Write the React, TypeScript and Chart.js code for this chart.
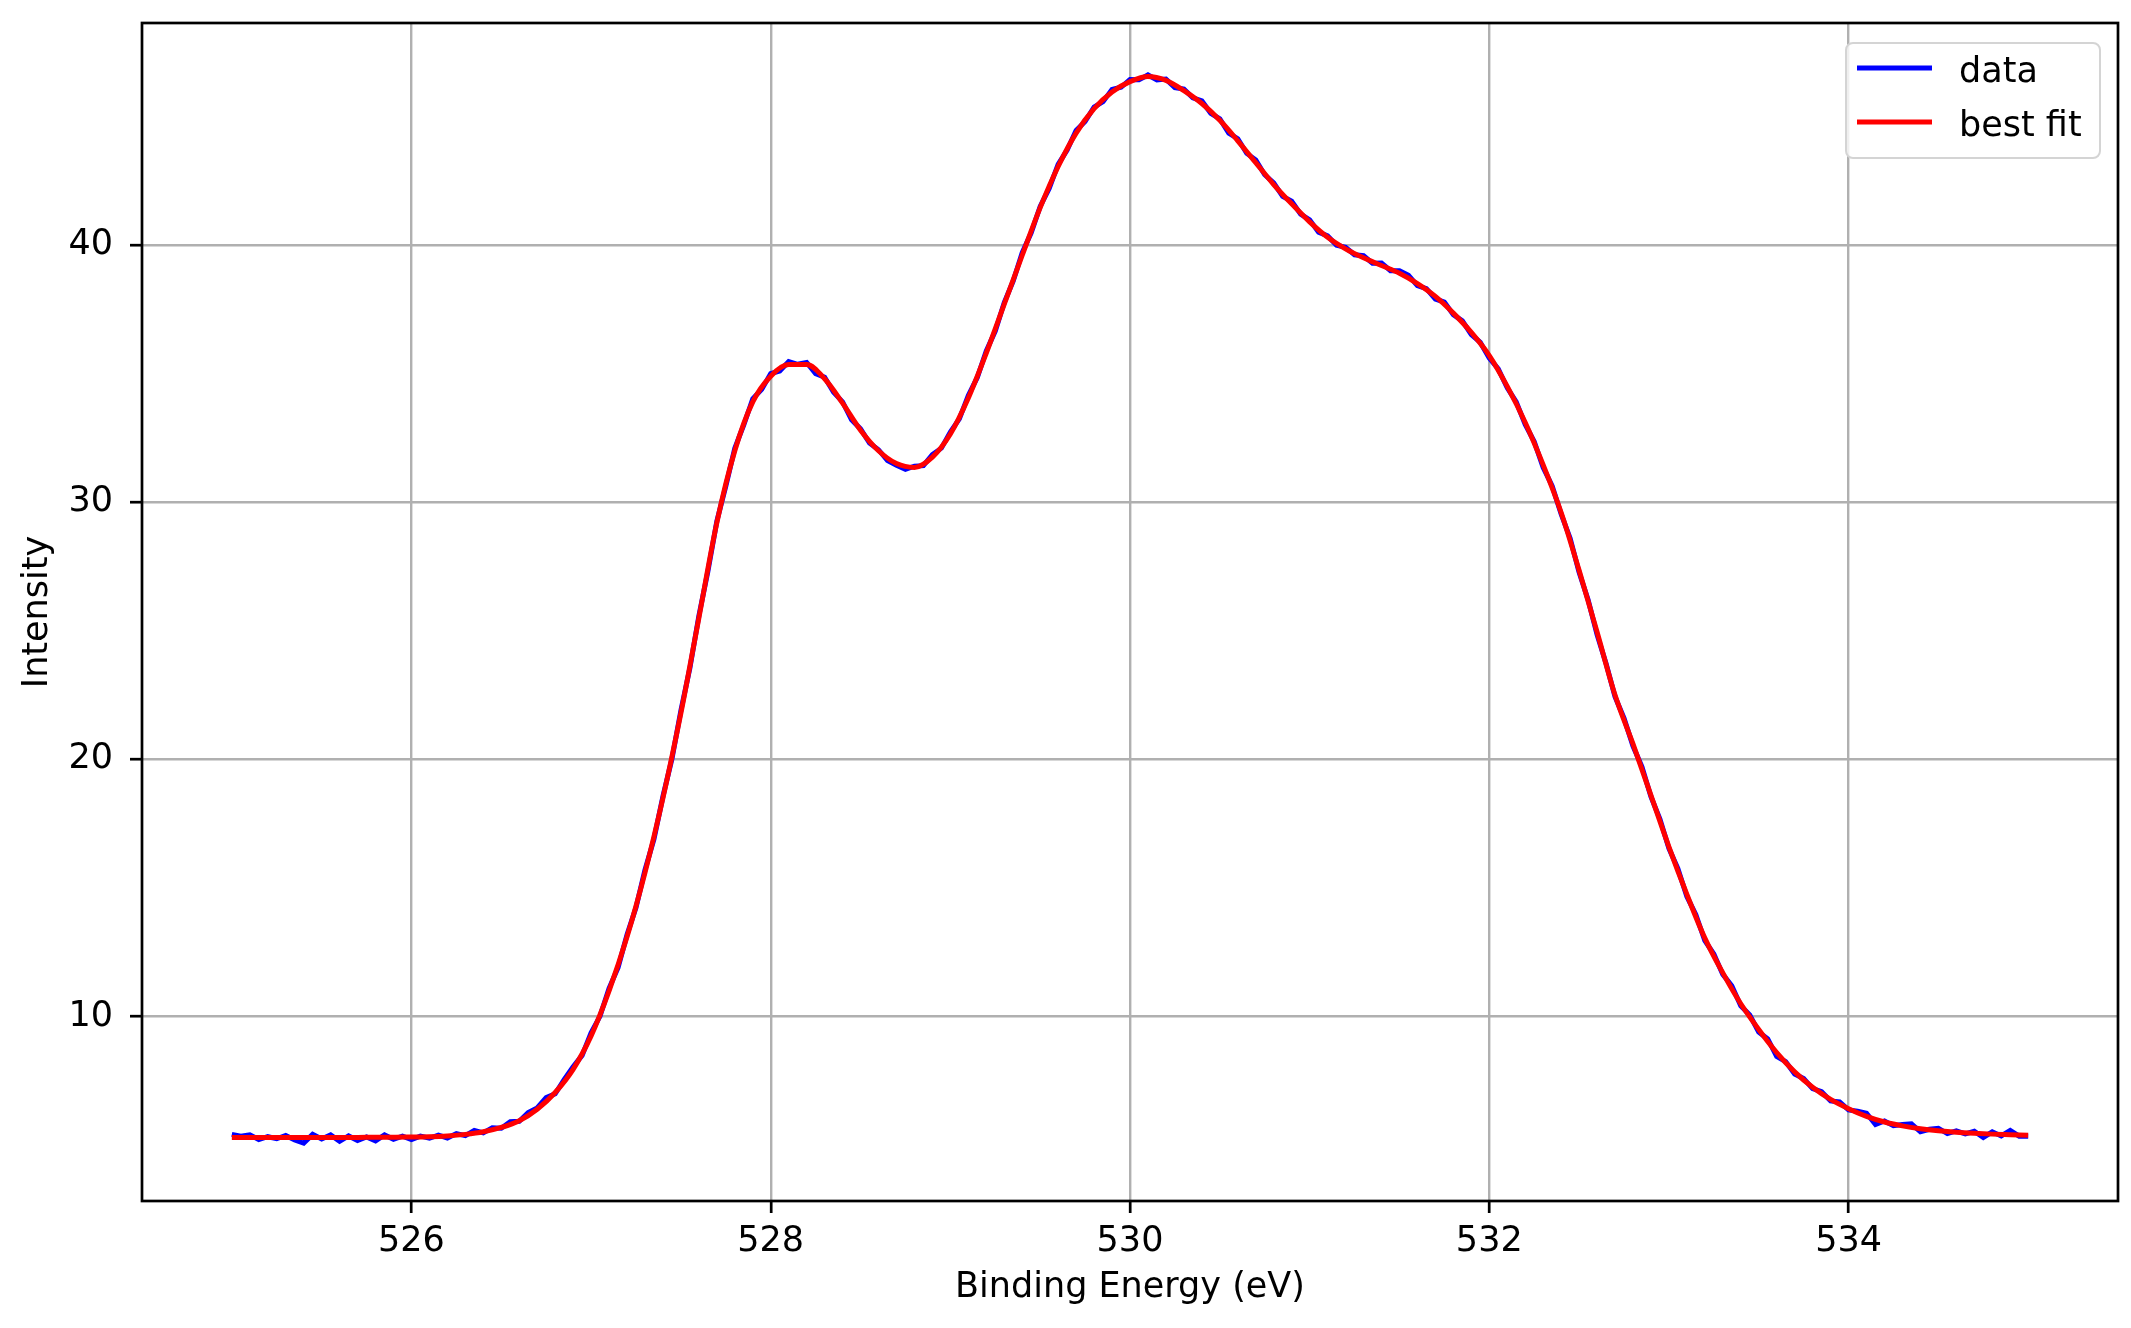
import { useEffect, useRef } from "react";
import { Chart, registerables } from "chart.js";

Chart.register(...registerables);

// measured spectrum, 525.00 -> 535.00 eV every 0.05 eV
const DATA_START = 525;
const DATA_STEP = 0.05;
const DATA_INTENSITY = [
  5.42, 5.35, 5.4, 5.22, 5.33, 5.25, 5.38, 5.2, 5.08, 5.42,
  5.24, 5.4, 5.15, 5.36, 5.18, 5.32, 5.17, 5.4, 5.23, 5.35,
  5.22, 5.35, 5.27, 5.39, 5.28, 5.45, 5.37, 5.57, 5.48, 5.68,
  5.66, 5.91, 5.93, 6.27, 6.45, 6.85, 7.0, 7.55, 8.05, 8.49,
  9.37, 10.02, 11.1, 11.9, 13.18, 14.24, 15.7, 16.9, 18.56, 20.02,
  21.9, 23.55, 25.58, 27.3, 29.26, 30.62, 32.1, 33.0, 34.02, 34.39,
  35.0, 35.1, 35.47, 35.36, 35.43, 35.0, 34.86, 34.27, 33.9, 33.2,
  32.85, 32.3, 32.04, 31.62, 31.44, 31.28, 31.4, 31.42, 31.85, 32.1,
  32.73, 33.24, 34.15, 34.85, 35.88, 36.65, 37.76, 38.6, 39.7, 40.47,
  41.5, 42.2, 43.13, 43.69, 44.45, 44.8, 45.36, 45.57, 46.05, 46.13,
  46.43, 46.42, 46.61, 46.42, 46.45, 46.12, 46.06, 45.72, 45.6, 45.12,
  44.9, 44.35, 44.13, 43.56, 43.3, 42.73, 42.41, 41.89, 41.7, 41.2,
  40.98, 40.5, 40.35, 39.99, 39.91, 39.62, 39.58, 39.29, 39.3, 39.0,
  39.0, 38.82, 38.42, 38.3, 37.9, 37.78, 37.29, 37.05, 36.52, 36.21,
  35.6, 35.18, 34.45, 33.9, 33.02, 32.36, 31.35, 30.63, 29.54, 28.6,
  27.27, 26.21, 24.85, 23.73, 22.44, 21.6, 20.52, 19.71, 18.55, 17.68,
  16.54, 15.75, 14.67, 13.96, 12.95, 12.43, 11.64, 11.2, 10.42, 10.06,
  9.4, 9.13, 8.45, 8.25, 7.77, 7.59, 7.2, 7.08, 6.72, 6.68,
  6.37, 6.32, 6.24, 5.8, 5.94, 5.76, 5.8, 5.83, 5.52, 5.62,
  5.66, 5.45, 5.56, 5.44, 5.54, 5.3, 5.52, 5.36, 5.57, 5.35,
  5.35,
];

// fitted envelope, 525.0 -> 535.0 eV every 0.1 eV
const FIT_START = 525;
const FIT_STEP = 0.1;
const FIT_INTENSITY = [
  5.3, 5.3, 5.3, 5.3, 5.3, 5.3, 5.3, 5.3, 5.31, 5.31,
  5.32, 5.33, 5.36, 5.42, 5.52, 5.69, 5.95, 6.4, 7.05, 7.95,
  9.25, 11.0, 13.1, 15.6, 18.5, 21.8, 25.5, 29.2, 32.0, 33.9,
  34.9, 35.35, 35.35, 34.8, 33.85, 32.8, 32.0, 31.5, 31.35, 31.75,
  32.65, 34.05, 35.8, 37.7, 39.6, 41.45, 43.05, 44.35, 45.3, 45.95,
  46.35, 46.55, 46.4, 46.0, 45.5, 44.85, 44.05, 43.2, 42.35, 41.6,
  40.9, 40.3, 39.85, 39.5, 39.2, 38.9, 38.5, 38.0, 37.35, 36.6,
  35.7, 34.5, 33.1, 31.45, 29.6, 27.35, 24.95, 22.5, 20.6, 18.6,
  16.6, 14.75, 13.05, 11.7, 10.5, 9.5, 8.6, 7.85, 7.25, 6.78,
  6.42, 6.12, 5.9, 5.75, 5.64, 5.56, 5.5, 5.46, 5.43, 5.41,
  5.39,
];

const X_TICKS = [526, 528, 530, 532, 534];
const Y_TICKS = [10, 20, 30, 40];

const FONT = "'DejaVu Sans', sans-serif";

const toPoints = (start: number, step: number, values: number[]) =>
  values.map((y, i) => ({ x: +(start + i * step).toFixed(3), y }));

// matplotlib-style closed frame around the plot area
const framePlugin = {
  id: "frame",
  afterDatasetsDraw(chart: Chart) {
    const { ctx, chartArea } = chart;
    ctx.save();
    ctx.strokeStyle = "#000";
    ctx.lineWidth = 2.7;
    ctx.strokeRect(chartArea.left, chartArea.top, chartArea.right - chartArea.left, chartArea.bottom - chartArea.top);
    ctx.restore();
  },
};

// boxed legend in the upper right corner
const legendPlugin = {
  id: "boxLegend",
  afterDraw(chart: Chart) {
    const { ctx, chartArea } = chart;
    const w = 254;
    const h = 115;
    const x = chartArea.right - 18 - w;
    const y = chartArea.top + 20;
    ctx.save();
    ctx.beginPath();
    ctx.roundRect(x, y, w, h, 7);
    ctx.fillStyle = "rgba(255,255,255,0.8)";
    ctx.fill();
    ctx.strokeStyle = "#d4d4d4";
    ctx.lineWidth = 2;
    ctx.stroke();
    ctx.font = `35px ${FONT}`;
    ctx.textBaseline = "alphabetic";
    ctx.textAlign = "left";
    chart.data.datasets.forEach((ds, i) => {
      const rowY = y + 25 + i * 54;
      ctx.strokeStyle = ds.borderColor as string;
      ctx.lineWidth = 5;
      ctx.beginPath();
      ctx.moveTo(x + 11, rowY);
      ctx.lineTo(x + 86, rowY);
      ctx.stroke();
      ctx.fillStyle = "#000";
      ctx.fillText(ds.label ?? "", x + 113, rowY + 14);
    });
    ctx.restore();
  },
};

export default function App() {
  const canvasRef = useRef<HTMLCanvasElement>(null);

  useEffect(() => {
    if (!canvasRef.current) return;

    const chart = new Chart(canvasRef.current, {
      type: "line",
      data: {
        datasets: [
          {
            label: "data",
            data: toPoints(DATA_START, DATA_STEP, DATA_INTENSITY),
            borderColor: "#0000ff",
            borderWidth: 5,
            pointRadius: 0,
            tension: 0,
            order: 1,
          },
          {
            label: "best fit",
            data: toPoints(FIT_START, FIT_STEP, FIT_INTENSITY),
            borderColor: "#ff0000",
            borderWidth: 5,
            pointRadius: 0,
            cubicInterpolationMode: "monotone",
            order: 0,
          },
        ],
      },
      options: {
        animation: false,
        responsive: false,
        devicePixelRatio: 1,
        layout: { padding: { top: 23, right: 13, left: 0, bottom: 0 } },
        plugins: {
          legend: { display: false },
          tooltip: { enabled: false },
        },
        scales: {
          x: {
            type: "linear",
            min: 524.5,
            max: 535.5,
            afterBuildTicks: (axis) => {
              axis.ticks = X_TICKS.map((value) => ({ value }));
            },
            afterFit: (axis) => {
              axis.height = 127;
              axis.paddingLeft = 0;
              axis.paddingRight = 0;
            },
            border: { display: false },
            grid: {
              color: "#b0b0b0",
              lineWidth: 2.4,
              drawTicks: true,
              tickLength: 12,
              tickColor: "#000",
              tickWidth: 2.7,
            },
            ticks: {
              color: "#000",
              padding: 8,
              maxRotation: 0,
              font: { family: FONT, size: 35 },
            },
            title: {
              display: true,
              text: "Binding Energy (eV)",
              color: "#000",
              font: { family: FONT, size: 35, lineHeight: 1.2 },
              padding: { top: 0, bottom: 19 },
            },
          },
          y: {
            type: "linear",
            min: 2.83,
            max: 48.63,
            afterBuildTicks: (axis) => {
              axis.ticks = Y_TICKS.map((value) => ({ value }));
            },
            afterFit: (axis) => {
              axis.width = 142;
              axis.paddingTop = 0;
              axis.paddingBottom = 0;
            },
            border: { display: false },
            grid: {
              color: "#b0b0b0",
              lineWidth: 2.4,
              drawTicks: true,
              tickLength: 12,
              tickColor: "#000",
              tickWidth: 2.7,
            },
            ticks: {
              color: "#000",
              padding: 17,
              font: { family: FONT, size: 35 },
            },
            title: {
              display: true,
              text: "Intensity",
              color: "#000",
              font: { family: FONT, size: 35, lineHeight: 1.2 },
              padding: { top: 17, bottom: 0 },
            },
          },
        },
      },
      plugins: [framePlugin, legendPlugin],
    });

    return () => {
      chart.destroy();
    };
  }, []);

  return (
    <div style={{ position: "fixed", left: 0, top: 0, width: 2131, height: 1328, background: "#fff" }}>
      <canvas ref={canvasRef} width={2131} height={1328} style={{ width: 2131, height: 1328 }} />
    </div>
  );
}
